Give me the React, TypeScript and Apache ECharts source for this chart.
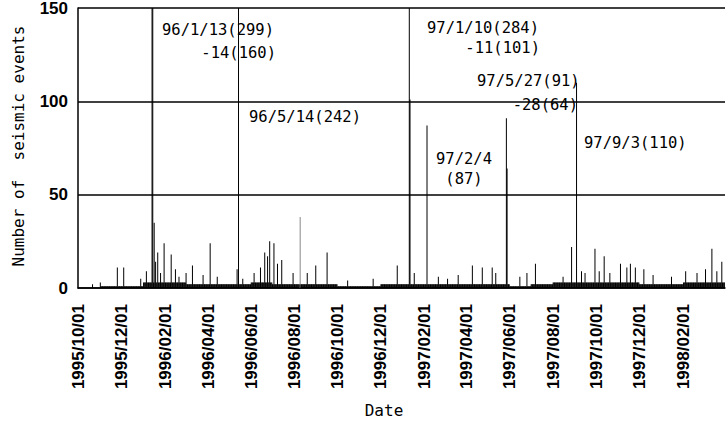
import React, { useEffect, useRef } from "react";
import * as echarts from "echarts";

// Time span of the record (daily counts)
const startDate = "1995-10-01";
const endDate = "1998-03-31";

// Typical low daily level for each month (read from the dense band at the base)
const monthKeys = [
  "1995-10", "1995-11", "1995-12",
  "1996-01", "1996-02", "1996-03", "1996-04", "1996-05", "1996-06",
  "1996-07", "1996-08", "1996-09", "1996-10", "1996-11", "1996-12",
  "1997-01", "1997-02", "1997-03", "1997-04", "1997-05", "1997-06",
  "1997-07", "1997-08", "1997-09", "1997-10", "1997-11", "1997-12",
  "1998-01", "1998-02", "1998-03",
];
const monthBaseLevels = [
  0, 1, 1,
  3, 3, 2, 2, 2, 3,
  2, 2, 2, 1, 1, 2,
  2, 2, 2, 2, 2, 1,
  2, 3, 3, 3, 3, 2,
  2, 3, 3,
];

// Individual days that stand out above the base band
const spikeDates = [
  "1995-10-21", "1995-11-01", "1995-11-25", "1995-12-04", "1995-12-28",
  "1996-01-05", "1996-01-13", "1996-01-14", "1996-01-16", "1996-01-18",
  "1996-01-21", "1996-01-25", "1996-01-30", "1996-02-09", "1996-02-15",
  "1996-02-20", "1996-03-01", "1996-03-10", "1996-03-25", "1996-04-04",
  "1996-04-14", "1996-05-12", "1996-05-14", "1996-05-20", "1996-06-05",
  "1996-06-14", "1996-06-20", "1996-06-24", "1996-06-27", "1996-07-03",
  "1996-07-08", "1996-07-14", "1996-07-30", "1996-08-09", "1996-08-19",
  "1996-08-31", "1996-09-16", "1996-10-15", "1996-11-20", "1996-12-24",
  "1997-01-10", "1997-01-11", "1997-01-17", "1997-02-04", "1997-02-20",
  "1997-03-05", "1997-03-20", "1997-04-09", "1997-04-23", "1997-05-07",
  "1997-05-12", "1997-05-27", "1997-05-28", "1997-06-15", "1997-06-25",
  "1997-07-07", "1997-08-15", "1997-08-27", "1997-09-03", "1997-09-10",
  "1997-09-15", "1997-09-29", "1997-10-05", "1997-10-12", "1997-10-20",
  "1997-11-04", "1997-11-13", "1997-11-18", "1997-11-25", "1997-12-07",
  "1997-12-20", "1998-01-15", "1998-02-04", "1998-02-20", "1998-03-04",
  "1998-03-13", "1998-03-20", "1998-03-27",
];
const spikeValues = [
  2, 3, 11, 11, 5,
  9, 299, 160, 35, 14,
  19, 8, 24, 18, 10,
  6, 8, 12, 7, 24,
  6, 10, 242, 5, 8,
  11, 19, 17, 25, 24,
  13, 15, 8, 38, 8,
  12, 19, 4, 5, 12,
  284, 101, 8, 87, 6,
  5, 7, 12, 11, 11,
  8, 91, 64, 6, 8,
  13, 6, 22, 110, 9,
  8, 21, 9, 17, 8,
  13, 11, 13, 11, 10,
  7, 6, 9, 8, 10,
  21, 9, 14,
];
const faintDates = ["1996-08-09"];

// Labelled ticks (first day of every other month)
const tickMonthDays = ["10/01", "12/01", "02/01", "04/01", "06/01", "08/01"];
const yTicks = [0, 50, 100, 150];

// Annotation texts
const noteTexts = [
  "96/1/13(299)", "-14(160)", "96/5/14(242)", "97/1/10(284)", "-11(101)",
  "97/5/27(91)", "-28(64)", "97/2/4", "(87)", "97/9/3(110)",
];

function pad(n: number) {
  return n < 10 ? "0" + n : "" + n;
}

export default function App() {
  const ref = useRef<HTMLDivElement>(null);
  useEffect(() => {
    const chart = echarts.init(ref.current!, null, { renderer: "svg" });

    const cats: string[] = [];
    const vals: any[] = [];
    const spikeMap: Record<string, number> = {};
    spikeDates.forEach((d, i) => (spikeMap[d] = spikeValues[i]));
    const baseMap: Record<string, number> = {};
    monthKeys.forEach((m, i) => (baseMap[m] = monthBaseLevels[i]));

    const d0 = new Date(startDate + "T00:00:00Z");
    const d1 = new Date(endDate + "T00:00:00Z");
    for (let t = d0.getTime(); t <= d1.getTime(); t += 86400000) {
      const dt = new Date(t);
      const y = dt.getUTCFullYear();
      const m = pad(dt.getUTCMonth() + 1);
      const d = pad(dt.getUTCDate());
      const iso = `${y}-${m}-${d}`;
      cats.push(`${y}/${m}/${d}`);
      const v = spikeMap[iso] !== undefined ? spikeMap[iso] : baseMap[`${y}-${m}`] || 0;
      if (faintDates.includes(iso)) {
        vals.push({ value: v, itemStyle: { color: "#888" } });
      } else {
        vals.push(v);
      }
    }

    const mono = "DejaVu Sans Mono";
    const noteStyle = (text: string, x: number, y: number, align: string) => ({
      type: "text",
      x,
      y,
      style: {
        text,
        fontFamily: mono,
        fontSize: 15.5,
        fill: "#000",
        align,
        verticalAlign: "middle",
      },
      z: 10,
    });

    chart.setOption({
      animation: false,
      backgroundColor: "#fff",
      grid: {
        left: 78,
        right: 2,
        top: 8,
        bottom: 136,
        show: false,
        outerBoundsMode: "none",
        containLabel: false,
      },
      xAxis: {
        type: "category",
        data: cats,
        boundaryGap: true,
        axisLine: { show: true, lineStyle: { color: "#000", width: 1.5 } },
        axisTick: { show: false },
        axisLabel: {
          interval: (_i: number, v: string) => tickMonthDays.includes(v.slice(5)),
          rotate: 90,
          margin: 16,
          color: "#000",
          fontFamily: "Liberation Sans",
          fontWeight: "bold",
          fontSize: 17,
          padding: [0, 0, 8, 0],
        },
        splitLine: { show: false },
      },
      yAxis: {
        type: "value",
        min: 0,
        max: 150,
        interval: 50,
        axisLine: { show: true, lineStyle: { color: "#000", width: 1.5 } },
        axisTick: { show: false },
        axisLabel: {
          color: "#000",
          fontFamily: "Liberation Sans",
          fontWeight: "bold",
          fontSize: 17,
          margin: 10,
          padding: [8, 0, 0, 0],
          customValues: yTicks,
        },
        splitLine: { show: true, lineStyle: { color: "#000", width: 1.5 } },
      },
      series: [
        {
          type: "bar",
          data: vals,
          barWidth: 1,
          clip: true,
          itemStyle: { color: "#000" },
          emphasis: { disabled: true },
        },
      ],
      graphic: [
        {
          type: "text",
          x: 18,
          y: 146,
          rotation: Math.PI / 2,
          style: {
            text: "Number of  seismic events",
            fontFamily: mono,
            fontSize: 16,
            fill: "#000",
            align: "center",
            verticalAlign: "middle",
          },
        },
        {
          type: "text",
          x: 384,
          y: 410,
          style: {
            text: "Date",
            fontFamily: mono,
            fontSize: 16,
            fill: "#000",
            align: "center",
            verticalAlign: "middle",
          },
        },
        noteStyle(noteTexts[0], 162, 30, "left"),
        noteStyle(noteTexts[1], 276, 53, "right"),
        noteStyle(noteTexts[2], 249, 117, "left"),
        noteStyle(noteTexts[3], 427, 28, "left"),
        noteStyle(noteTexts[4], 540, 48, "right"),
        noteStyle(noteTexts[5], 477, 81, "left"),
        noteStyle(noteTexts[6], 578, 105, "right"),
        noteStyle(noteTexts[7], 464, 159, "center"),
        noteStyle(noteTexts[8], 464, 179, "center"),
        noteStyle(noteTexts[9], 584, 143, "left"),
      ],
    });
    return () => chart.dispose();
  }, []);
  return (
    <div
      ref={ref}
      style={{ position: "fixed", left: 0, top: 0, width: 727, height: 424 }}
    />
  );
}
